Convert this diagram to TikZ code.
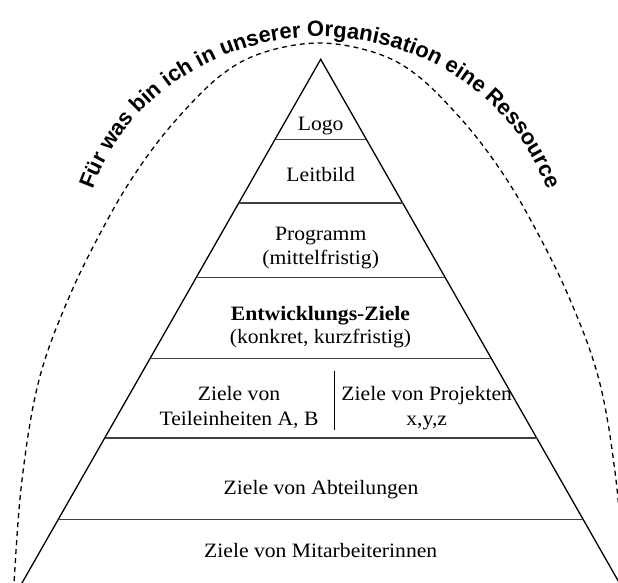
\documentclass[tikz,border=0pt]{standalone}
\usepackage{fontspec}
\setmainfont{Liberation Serif}[FakeStretch=1.06]
\newfontfamily\archfont{Liberation Sans}
\usetikzlibrary{decorations.text}

\begin{document}
\begin{tikzpicture}[x=1pt,y=-1pt,
  side/.style={line width=1.3pt},
  tier/.style={line width=1.6pt, draw=black!75},
  lbl/.style={anchor=base, inner sep=0pt, font=\fontsize{20.4}{23}\selectfont},
  hull/.style={line width=1.3pt, dash pattern=on 5pt off 4pt}]
\useasboundingbox (0,0) rectangle (618,583);

% dashed hull around the pyramid
\draw[hull] plot[smooth, tension=0.6] coordinates {
  (14,598) (14,583) (22,480) (39,380) (70,295) (109,217) (141,165) (176,120)
  (220,76) (262,53) (319,43) (376,53) (418,76) (462,120) (497,165) (529,217)
  (568,295) (599,380) (616,480) (624,583) (624,598)};

% arched title along the outside of the hull
\path[decorate, decoration={text along path, text align=center,
  text={|\archfont\bfseries\fontsize{22}{22}\selectfont|Für was bin ich in unserer Organisation eine Ressource}}]
  (88.1,203.6) arc[start angle=-165, end angle=-15, x radius=240, y radius=225];

% pyramid outline
\coordinate (apex) at (320.7,59.3);
\coordinate (baseL) at (18.0,590);
\coordinate (baseR) at (623.4,590);
\draw[side] (baseL) -- (apex) -- (baseR);

% horizontal tiers
\foreach \y/\h [count=\i] in {139.3/45.6, 202.7/81.8, 277.3/124.3, 358.3/170.5, 437.7/215.8, 519.3/262.3} {
  \coordinate (t\i L) at (320.7-\h,\y);
  \coordinate (t\i R) at (320.7+\h,\y);
  \draw[tier] (t\i L) -- (t\i R);
}

% divider in the fifth tier
\coordinate (divT) at (334.3,371);
\coordinate (divB) at (334.3,430);
\draw[side] (divT) -- (divB);

% tier labels
\node[lbl] (logo) at (320.7,131) {Logo};
\node[lbl] (leitbild) at (320.7,181.7) {Leitbild};
\node[lbl] (prog) at (320.7,240.7) {Programm};
\node[lbl] (progsub) at (320.7,264) {(mittelfristig)};
\node[lbl, font=\fontsize{20.4}{23}\selectfont\bfseries] (entw) at (320.5,320) {Entwicklungs-Ziele};
\node[lbl] (entwsub) at (320.5,343.3) {(konkret, kurzfristig)};
\node[lbl] (teil1) at (239,400) {Ziele von};
\node[lbl] (teil2) at (239,425) {Teileinheiten A, B};
\node[lbl] (proj1) at (426.7,400) {Ziele von Projekten};
\node[lbl] (proj2) at (426.7,425) {x,y,z};
\node[lbl] (abt) at (321,494) {Ziele von Abteilungen};
\node[lbl] (mit) at (320.7,557.3) {Ziele von Mitarbeiterinnen};
\end{tikzpicture}
\end{document}
